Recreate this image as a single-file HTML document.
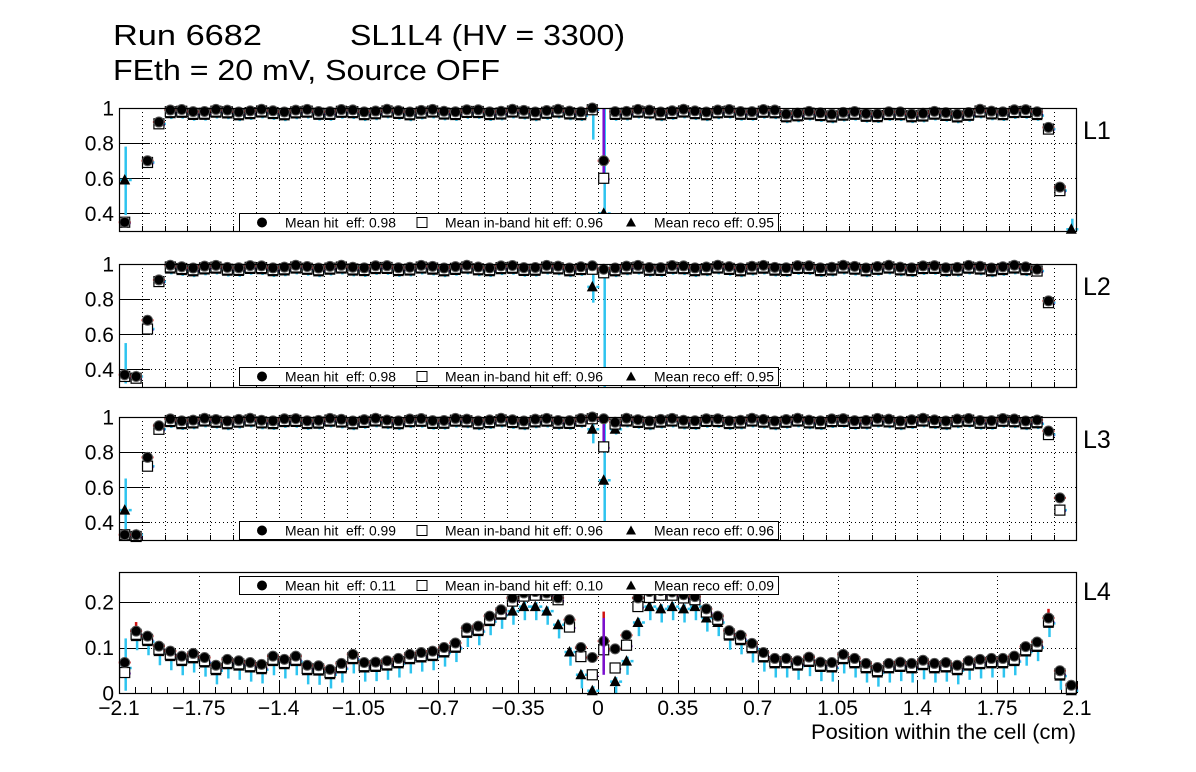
<!DOCTYPE html>
<html><head><meta charset="utf-8"><style>
html,body{margin:0;padding:0;background:#fff;}
svg{display:block;font-family:"Liberation Sans",Arial,sans-serif;}
</style></head><body>
<svg id="s" width="1196" height="772" xmlns="http://www.w3.org/2000/svg">
<rect width="1196" height="772" fill="#fff"/>
<text x="113" y="45" font-size="29" textLength="149" lengthAdjust="spacingAndGlyphs">Run 6682</text>
<text x="350" y="45" font-size="29" textLength="275" lengthAdjust="spacingAndGlyphs">SL1L4 (HV = 3300)</text>
<text x="113" y="80" font-size="29" textLength="387" lengthAdjust="spacingAndGlyphs">FEth = 20 mV, Source OFF</text>
<g id="g"></g>
</svg>
<script>
var NS="http://www.w3.org/2000/svg",G=document.getElementById('g');
function el(t,a,txt){var e=document.createElementNS(NS,t);for(var k in a)e.setAttribute(k,a[k]);if(txt!=null)e.textContent=txt;G.appendChild(e);return e;}
var X0=119,X1=1077;function px(x){return X0+(x+2.1)/4.2*(X1-X0);}
function flat(seed,dip){var h=[];for(var i=0;i<84;i++){var v=0.985+0.008*Math.sin(i*1.7+seed);if(i>=58&&i<=74&&dip)v-=0.012;h.push(Math.min(v,0.999));}return h;}
var P=[
 {top:108,bot:231,lo:0.3,hi:1.0,lab:"L1",leg:["0.98","0.96","0.95"],ly:213,
  spec:{0:[0.35,0.35,0.59,0.39,0.78],1:null,2:[0.70,0.69,0.69],3:[0.92,0.91,0.91],41:[1.0,0.99,0.99,0.82,1.0],42:[0.70,0.60,0.40,0.3,1.0,1],81:[0.89,0.88,0.88],82:[0.55,0.53,0.53],83:[null,null,0.31,0.3,0.37]},dip:1,seed:0},
 {top:264,bot:387,lo:0.3,hi:1.0,lab:"L2",leg:["0.98","0.96","0.95"],ly:367,
  spec:{0:[0.37,0.36,0.37,0.32,0.55],1:[0.36,0.35,0.36],2:[0.68,0.63,0.63],3:[0.91,0.90,0.90],41:[0.99,0.97,0.87,0.78,0.99],42:[0.97,0.95,0.96,0.3,1.0,1],80:[0.97,0.96,0.96],81:[0.79,0.78,0.78],82:null,83:null},dip:0,seed:1},
 {top:417,bot:540,lo:0.3,hi:1.0,lab:"L3",leg:["0.99","0.96","0.96"],ly:521,
  spec:{0:[0.33,0.33,0.47,0.3,0.65],1:[0.33,0.32,0.33],2:[0.77,0.72,0.72],3:[0.95,0.93,0.93],41:[1.0,0.99,0.93,0.85,1.0],42:[0.99,0.83,0.64,0.3,1.0,1],43:[0.97,0.96,0.93],81:[0.92,0.90,0.90],82:[0.54,0.47,0.47],83:null},dip:0,seed:2}
];
var L4h=[0.067,0.136,0.125,0.103,0.092,0.081,0.087,0.078,0.061,0.074,0.071,0.067,0.063,0.081,0.074,0.081,0.061,0.060,0.052,0.065,0.085,0.067,0.068,0.071,0.076,0.085,0.089,0.092,0.10,0.11,0.143,0.147,0.169,0.183,0.209,0.22,0.223,0.22,0.209,0.161,0.10,0.078,0.114,0.097,0.127,0.209,0.223,0.225,0.222,0.216,0.212,0.185,0.169,0.137,0.127,0.109,0.089,0.076,0.076,0.071,0.079,0.068,0.067,0.085,0.076,0.065,0.056,0.065,0.068,0.065,0.072,0.065,0.067,0.061,0.071,0.074,0.076,0.076,0.081,0.102,0.112,0.165,0.049,0.017];
function drawPoint(x,yh,ys,yr,ymap,lo,hi,errR,errC,longP,clipTop,clipBot){
 var X=px(x);
 function Y(v){return Math.max(clipTop,Math.min(clipBot,ymap(v)));}
 if(yr!=null){var a=errC?errC[0]:yr-0.03,b=errC?errC[1]:Math.min(yr+0.01,hi);el('line',{x1:X+1,x2:X+1,y1:Y(a),y2:Y(b),stroke:'#2ec4ef','stroke-width':2.5});el('line',{x1:X-5,x2:X+7,y1:Y(yr),y2:Y(yr),stroke:'#2ec4ef','stroke-width':2.5,'stroke-dasharray':'3,6'});}
 if(ys!=null){if(longP)el('line',{x1:X,x2:X,y1:Y(ys),y2:Y(hi),stroke:'#7a10d0','stroke-width':2.5});el('line',{x1:X-5,x2:X+6,y1:Y(ys)+1,y2:Y(ys)+1,stroke:'#7a10d0','stroke-width':2,'stroke-dasharray':'2,7'});}
 if(yh!=null){var e=errR||0.015;el('line',{x1:X,x2:X,y1:Y(yh-e),y2:Y(Math.min(yh+e,hi)),stroke:'#d01010','stroke-width':2.5});el('line',{x1:X-6,x2:X+6,y1:Y(yh),y2:Y(yh),stroke:'#d01010','stroke-width':2,'stroke-dasharray':'3,6'});}
 if(yr!=null&&ymap(yr)<=clipBot+2)el('polygon',{points:(X)+','+(ymap(yr)-6)+' '+(X-5.5)+','+(ymap(yr)+4.5)+' '+(X+5.5)+','+(ymap(yr)+4.5),fill:'#000'});
 if(ys!=null)el('rect',{x:X-5,y:ymap(ys)-5,width:10,height:10,fill:'#fff',stroke:'#000','stroke-width':1.2});
 if(yh!=null&&ymap(yh)>=clipTop-1)el('circle',{cx:X,cy:ymap(yh),r:5,fill:'#000',stroke:'#555','stroke-width':1});
}
function legend(ly,v){
 el('rect',{x:239.5,y:ly+0.5,width:539,height:18,fill:'#fff',stroke:'#000','stroke-width':1});
 var cy=ly+9.5;
 el('circle',{cx:262,cy:cy,r:5,fill:'#000'});el('text',{x:285,y:cy+5,'font-size':13.5,textLength:111,lengthAdjust:'spacingAndGlyphs'},'Mean hit\u00a0 eff: '+v[0]);
 el('rect',{x:417,y:cy-5,width:10,height:10,fill:'#fff',stroke:'#000'});el('text',{x:445,y:cy+5,'font-size':13.5,textLength:158,lengthAdjust:'spacingAndGlyphs'},'Mean in-band hit eff: '+v[1]);
 el('polygon',{points:'631,'+(cy-5)+' 626,'+(cy+4)+' 636,'+(cy+4),fill:'#000'});el('text',{x:654,y:cy+5,'font-size':13.5,textLength:120,lengthAdjust:'spacingAndGlyphs'},'Mean reco eff: '+v[2]);
}
P.forEach(function(p){
 function ym(v){return p.bot-(v-p.lo)/(p.hi-p.lo)*(p.bot-p.top);}
 for(var g=-2.0;g<=2.01;g+=0.1){var X=Math.round(px(g))+0.5;el('line',{x1:X,x2:X,y1:p.top,y2:p.bot,stroke:'#000','stroke-dasharray':'1,3','stroke-width':1});el('line',{x1:X,x2:X,y1:p.bot-5,y2:p.bot,stroke:'#000'});}
 [0.4,0.6,0.8].forEach(function(v){var Y=Math.round(ym(v))+0.5;el('line',{x1:X0,x2:X1,y1:Y,y2:Y,stroke:'#000','stroke-dasharray':'1,3'});el('line',{x1:X0,x2:X0+31,y1:Y,y2:Y,stroke:'#000'});});
 [0.4,0.6,0.8,1].forEach(function(v){el('text',{x:114,y:ym(v)+7.5,'font-size':21,'text-anchor':'end'},v==1?'1':String(v));});
 var base=flat(p.seed,p.dip);
 for(var i=0;i<84;i++){var x=-2.075+0.05*i,s=p.spec[i];
  if(s===null)continue;
  if(s){drawPoint(x,s[0],s[1],s[2],ym,p.lo,p.hi,null,s.length>=5&&s[3]!=null?[s[3],s[4]]:null,s[5],p.top,p.bot);}
  else{var h=base[i];drawPoint(x,h,h-0.01,h-0.022,ym,p.lo,p.hi,0.01,null,0,p.top,p.bot);}
 }
 el('rect',{x:X0+0.5,y:p.top+0.5,width:X1-X0-1,height:p.bot-p.top,fill:'none',stroke:'#000','stroke-width':1.2});
 el('text',{x:1083,y:p.top+31,'font-size':25},p.lab);
 legend(p.ly,p.leg);
});
(function(){var top=572,bot=693,lo=0,hi=0.266;function ym(v){return bot-(v-lo)/(hi-lo)*(bot-top);}
 for(var g=-1.75;g<=1.76;g+=0.35){var X=Math.round(px(g))+0.5;el('line',{x1:X,x2:X,y1:top,y2:bot,stroke:'#000','stroke-dasharray':'1,3'});}
 for(var k=0;k<=60;k++){var g=-2.1+k*0.07,X=Math.round(px(g))+0.5;el('line',{x1:X,x2:X,y1:bot-(k%5==0?12:6),y2:bot,stroke:'#000'});}
 [0.1,0.2].forEach(function(v){var Y=Math.round(ym(v))+0.5;el('line',{x1:X0,x2:X1,y1:Y,y2:Y,stroke:'#000','stroke-dasharray':'1,3'});el('line',{x1:X0,x2:X0+31,y1:Y,y2:Y,stroke:'#000'});});
 [[0,'0'],[0.1,'0.1'],[0.2,'0.2']].forEach(function(a){el('text',{x:114,y:ym(a[0])+7.5,'font-size':21,'text-anchor':'end'},a[1]);});
 var sq={0:0.045,36:0.215,37:0.215,38:0.205,39:0.145,40:0.08,41:0.04,42:0.095,43:0.055,44:0.105,45:0.19,46:0.21,47:0.215};
 var rc={34:0.18,35:0.19,36:0.19,37:0.18,38:0.15,39:0.09,40:0.04,41:0.005,42:null,43:0.025,44:0.07,45:0.155,46:0.19,47:0.185,48:0.19,49:0.185,50:0.19,51:0.165,52:0.155};
 for(var i=0;i<84;i++){var x=-2.075+0.05*i,h=L4h[i];var s=(i in sq)?sq[i]:h-0.007;var r=(i in rc)?rc[i]:h-0.012;
  var ec=i==0?[0.005,0.12]:null;
  drawPoint(x,h,s,r,ym,lo,hi,i==1||i==42||i==81?(i==42?0.065:0.02):0.008,ec,0,top,bot);
  if(i==42)el('line',{x1:px(x),x2:px(x),y1:ym(0.04),y2:ym(0.165),stroke:'#7a10d0','stroke-width':2.5});
 }
 el('rect',{x:X0+0.5,y:top+0.5,width:X1-X0-1,height:bot-top,fill:'none',stroke:'#000','stroke-width':1.2});
 el('text',{x:1083,y:top+28,'font-size':25},'L4');
 legend(576,['0.11','0.10','0.09']);
 var labs=['\u22122.1','\u22121.75','\u22121.4','\u22121.05','\u22120.7','\u22120.35','0','0.35','0.7','1.05','1.4','1.75','2.1'];
 labs.forEach(function(t,k){el('text',{x:px(-2.1+0.35*k),y:715,'font-size':21,'text-anchor':'middle'},t);});
 el('text',{x:1076,y:739,'font-size':21,'text-anchor':'end',textLength:265,lengthAdjust:'spacingAndGlyphs'},'Position within the cell (cm)');
})();
</script>
</body></html>
